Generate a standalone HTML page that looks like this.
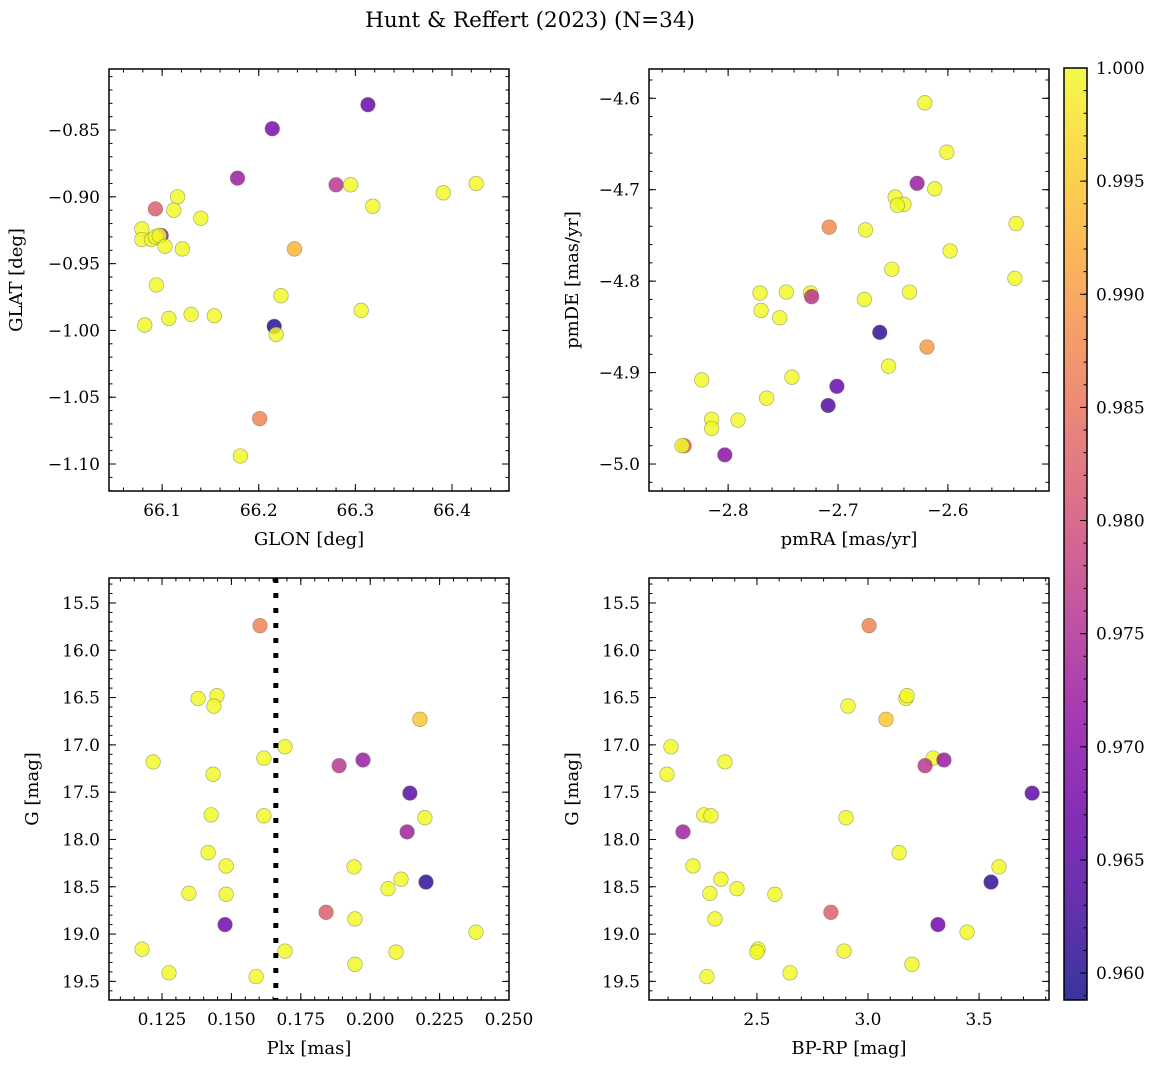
<!DOCTYPE html>
<html><head><meta charset="utf-8">
<style>
html,body{margin:0;padding:0;background:#fff;}
svg{display:block;font-family:"DejaVu Serif","Liberation Serif",serif;}
</style></head>
<body>
<svg id="fig" width="1161" height="1068" viewBox="0 0 1161 1068" xmlns="http://www.w3.org/2000/svg">
<text x="530" y="27" font-size="21.5" text-anchor="middle">Hunt &amp; Reffert (2023) (N=34)</text>
</svg>
<script>
// ---- Panel 1: GLON / GLAT
const p1Glon=[66.313,66.214,66.178,66.280,66.295,66.425,66.391,66.318,66.093,66.116,66.112,66.140,66.079,66.079,66.099,66.089,66.093,66.097,66.103,66.121,66.237,66.094,66.223,66.306,66.082,66.107,66.130,66.154,66.216,66.218,66.201,66.181];
const p1Glat=[-0.831,-0.849,-0.886,-0.891,-0.891,-0.890,-0.897,-0.907,-0.909,-0.900,-0.910,-0.916,-0.924,-0.932,-0.929,-0.932,-0.930,-0.929,-0.937,-0.939,-0.939,-0.966,-0.974,-0.985,-0.996,-0.991,-0.988,-0.989,-0.997,-1.003,-1.066,-1.094];
const p1Prob=[0.966,0.968,0.972,0.976,1,1,1,1,0.982,1,1,1,1,1,0.970,1,1,1,1,1,0.993,1,1,1,1,1,1,1,0.960,1,0.987,1];
// ---- Panel 2: pmRA / pmDE
const p2Pmra=[-2.621,-2.601,-2.628,-2.612,-2.648,-2.640,-2.646,-2.708,-2.675,-2.538,-2.598,-2.651,-2.771,-2.747,-2.725,-2.724,-2.676,-2.635,-2.539,-2.770,-2.753,-2.662,-2.619,-2.654,-2.824,-2.742,-2.701,-2.765,-2.709,-2.815,-2.791,-2.815,-2.840,-2.842,-2.803];
const p2Pmde=[-4.605,-4.659,-4.693,-4.699,-4.708,-4.716,-4.717,-4.741,-4.744,-4.737,-4.767,-4.787,-4.813,-4.812,-4.813,-4.817,-4.820,-4.812,-4.797,-4.832,-4.840,-4.856,-4.872,-4.893,-4.908,-4.905,-4.915,-4.928,-4.936,-4.951,-4.952,-4.961,-4.980,-4.980,-4.990];
const p2Prob=[1,1,0.972,1,1,1,1,0.988,1,1,1,1,1,1,1,0.976,1,1,1,1,1,0.961,0.990,1,1,1,0.966,1,0.964,1,1,1,0.983,1,0.970];
// ---- Panels 3 & 4: Plx, G, BP-RP
const starPlx=[0.1603,0.1380,0.1448,0.1437,0.2179,0.1693,0.1218,0.1617,0.1888,0.1974,0.1434,0.2143,0.1427,0.1617,0.2197,0.2133,0.1416,0.1481,0.1942,0.2111,0.2201,0.2064,0.1347,0.1481,0.1841,0.1945,0.1477,0.2381,0.1178,0.1693,0.2093,0.1945,0.1275,0.1589];
const starG=[15.74,16.51,16.48,16.59,16.73,17.02,17.18,17.14,17.22,17.16,17.31,17.51,17.74,17.75,17.77,17.92,18.14,18.28,18.29,18.42,18.45,18.52,18.57,18.58,18.77,18.84,18.90,18.98,19.16,19.18,19.19,19.32,19.41,19.45];
const starBprp=[3.005,3.171,3.176,2.910,3.081,2.113,2.356,3.293,3.257,3.342,2.095,3.739,2.261,2.293,2.901,2.167,3.140,2.212,3.590,2.338,3.554,2.410,2.288,2.581,2.833,2.311,3.315,3.446,2.505,2.892,2.500,3.198,2.649,2.275];
const starProb=[0.987,1,1,1,0.995,1,1,1,0.976,0.972,1,0.965,1,1,1,0.973,1,1,1,1,0.961,1,1,1,0.982,1,0.967,1,1,1,1,1,1,1];
// tick labels
const p1XTicks=[66.1,66.2,66.3,66.4];
const p1YTicks=[-0.85,-0.90,-0.95,-1.00,-1.05,-1.10];
const p2XTicks=[-2.8,-2.7,-2.6];
const p2YTicks=[-4.6,-4.7,-4.8,-4.9,-5.0];
const p3XTicks=[0.125,0.150,0.175,0.200,0.225,0.250];
const gTicks=[15.5,16.0,16.5,17.0,17.5,18.0,18.5,19.0,19.5];
const p4XTicks=[2.5,3.0,3.5];
const cbTicks=[0.960,0.965,0.970,0.975,0.980,0.985,0.990,0.995,1.000];
const plxCut=[0.166];
const VMIN=0.95881, VMAX=1.0;

const NS="http://www.w3.org/2000/svg";
const svg=document.getElementById('fig');
function mk(tag,attrs,parent){const e=document.createElementNS(NS,tag);for(const k in attrs)e.setAttribute(k,attrs[k]);(parent||svg).appendChild(e);return e;}
const stops=[[0,[13,8,135]],[0.1,[65,4,157]],[0.2,[106,0,168]],[0.3,[143,13,164]],[0.4,[177,42,144]],[0.5,[204,71,120]],[0.6,[225,100,98]],[0.7,[242,132,75]],[0.8,[252,166,54]],[0.9,[252,206,37]],[1,[240,249,33]]];
function plasma(t){t=Math.max(0,Math.min(1,t));for(let i=1;i<stops.length;i++){if(t<=stops[i][0]){const a=stops[i-1],b=stops[i];const f=(t-a[0])/(b[0]-a[0]);const c=a[1].map((v,j)=>Math.round(v+(b[1][j]-v)*f));return `rgb(${c[0]},${c[1]},${c[2]})`;}}return 'rgb(240,249,33)';}
function col(p){return plasma((p-VMIN)/(VMAX-VMIN));}
function fmt(v,d){return (v<0?'\u2212':'')+Math.abs(v).toFixed(d);}

function makeAxes(o){
  const g=mk('g',{});
  
  
  const X=v=>o.x0+(v-o.xmin)/(o.xmax-o.xmin)*o.w;
  const Y=v=>o.yInv? o.y0+(v-o.ymin)/(o.ymax-o.ymin)*o.h : o.y0+o.h-(v-o.ymin)/(o.ymax-o.ymin)*o.h;
  const tg=mk('g',{stroke:'#000','stroke-width':1},g);
  
  
  function ticks(step,len,isX){
    const lo=isX?o.xmin:o.ymin, hi=isX?o.xmax:o.ymax;
    const s=Math.ceil(lo/step-1e-6);
    for(let k=s;k*step<=hi+1e-9;k++){const v=k*step;
      if(isX){const x=X(v);mk('line',{x1:x,x2:x,y1:o.y0+o.h,y2:o.y0+o.h-len},tg);mk('line',{x1:x,x2:x,y1:o.y0,y2:o.y0+len},tg);}
      else{const y=Y(v);mk('line',{x1:o.x0,x2:o.x0+len,y1:y,y2:y},tg);mk('line',{x1:o.x0+o.w,x2:o.x0+o.w-len,y1:y,y2:y},tg);}
    }}
  ticks(o.xminor,3.5,true);ticks(o.yminor,3.5,false);
  o.xt.forEach(v=>{const x=X(v);mk('line',{x1:x,x2:x,y1:o.y0+o.h,y2:o.y0+o.h-7},tg);mk('line',{x1:x,x2:x,y1:o.y0,y2:o.y0+7},tg);
    const t=mk('text',{x:x,y:o.y0+o.h+25,'font-size':17,'text-anchor':'middle'},g);t.textContent=fmt(v,o.xd);
    });
  o.yt.forEach(v=>{const y=Y(v);mk('line',{x1:o.x0,x2:o.x0+7,y1:y,y2:y},tg);mk('line',{x1:o.x0+o.w,x2:o.x0+o.w-7,y1:y,y2:y},tg);
    const t=mk('text',{x:o.x0-9,y:y+6,'font-size':17,'text-anchor':'end'},g);t.textContent=fmt(v,o.yd);
    });
  const xl=mk('text',{x:o.x0+o.w/2,y:o.y0+o.h+54,'font-size':18,'text-anchor':'middle'},g);xl.textContent=o.xlab;
  
  const yl=mk('text',{x:o.ylx,y:o.y0+o.h/2,'font-size':18,'text-anchor':'middle',transform:`rotate(-90 ${o.ylx} ${o.y0+o.h/2})`},g);yl.textContent=o.ylab;
  
  const pg=mk('g',{},g);
  
  const fr=mk('rect',{x:o.x0,y:o.y0,width:o.w,height:o.h,fill:'none',stroke:'#000','stroke-width':1.5},g);
  
  return {X,Y,pg,g};
}
function scatter(ax,xs,ys,ps){
  for(let i=0;i<xs.length;i++){
    const c=mk('circle',{cx:ax.X(xs[i]),cy:ax.Y(ys[i]),r:7.3,fill:col(ps[i]),'fill-opacity':0.82,stroke:'#6b6b4a','stroke-opacity':0.55,'stroke-width':0.7},ax.pg);
    
    
  }
}
const a1=makeAxes({name:'glon-glat-panel',x0:109,y0:69,w:400,h:422,xmin:66.045,xmax:66.459,ymin:-1.1202,ymax:-0.8043,xminor:0.02,yminor:0.01,xt:p1XTicks,yt:p1YTicks,xd:1,yd:2,xlab:'GLON [deg]',ylab:'GLAT [deg]',ylx:22});
scatter(a1,p1Glon,p1Glat,p1Prob);
const a2=makeAxes({name:'pm-panel',x0:649,y0:69,w:400,h:422,xmin:-2.872,xmax:-2.508,ymin:-5.0295,ymax:-4.568,xminor:0.02,yminor:0.02,xt:p2XTicks,yt:p2YTicks,xd:1,yd:1,xlab:'pmRA [mas/yr]',ylab:'pmDE [mas/yr]',ylx:578});
scatter(a2,p2Pmra,p2Pmde,p2Prob);
const a3=makeAxes({name:'plx-g-panel',x0:109,y0:578,w:400,h:422,xmin:0.1059,xmax:0.2500,ymin:15.236,ymax:19.697,yInv:true,xminor:0.005,yminor:0.1,xt:p3XTicks,yt:gTicks,xd:3,yd:1,xlab:'Plx [mas]',ylab:'G [mag]',ylx:38});
plxCut.forEach(v=>{const l=mk('line',{x1:a3.X(v),x2:a3.X(v),y1:578,y2:1000,stroke:'#000','stroke-width':5,'stroke-dasharray':'5 10'},a3.g);
  });
scatter(a3,starPlx,starG,starProb);
const a4=makeAxes({name:'cmd-panel',x0:649,y0:578,w:400,h:422,xmin:2.014,xmax:3.815,ymin:15.236,ymax:19.697,yInv:true,xminor:0.1,yminor:0.1,xt:p4XTicks,yt:gTicks,xd:1,yd:1,xlab:'BP-RP [mag]',ylab:'G [mag]',ylx:578});
scatter(a4,starBprp,starG,starProb);

// colorbar
const cb=mk('g',{});

const defs=mk('defs',{},cb);
const grad=mk('linearGradient',{id:'pl',x1:0,y1:1,x2:0,y2:0},defs);
for(let i=0;i<=20;i++){mk('stop',{offset:i/20,'stop-color':plasma(i/20)},grad);}
const cbx=1064,cby=68,cbw=23,cbh=932;
mk('rect',{x:cbx,y:cby,width:cbw,height:cbh,fill:'url(#pl)','fill-opacity':0.82},cb);
const CY=v=>cby+cbh-(v-VMIN)/(VMAX-VMIN)*cbh;
for(let k=Math.ceil(VMIN/0.001);k<=1000;k++){const y=CY(k/1000);mk('line',{x1:cbx+cbw,x2:cbx+cbw-3.5,y1:y,y2:y,stroke:'#000'},cb);}
cbTicks.forEach(v=>{const y=CY(v);mk('line',{x1:cbx+cbw,x2:cbx+cbw-7,y1:y,y2:y,stroke:'#000'},cb);
  const t=mk('text',{x:cbx+cbw+9,y:y+6,'font-size':17},cb);t.textContent=v.toFixed(3);
  });
mk('rect',{x:cbx,y:cby,width:cbw,height:cbh,fill:'none',stroke:'#000','stroke-width':1.5},cb);
</script>
</body></html>
